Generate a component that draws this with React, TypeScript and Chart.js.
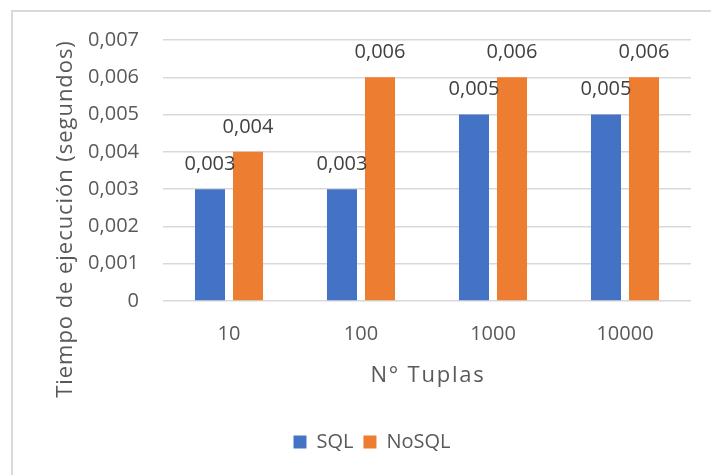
import React, { useEffect, useRef } from "react";
import { Chart, registerables } from "chart.js";

Chart.register(...registerables);

const categories = ["10", "100", "1000", "10000"];
const sqlValues = [0.003, 0.003, 0.005, 0.005];
const nosqlValues = [0.004, 0.006, 0.006, 0.006];
const seriesNames = ["SQL", "NoSQL"];
const yMin = 0;
const yMax = 0.007;
const yStep = 0.001;
const xTitle = "N° Tuplas";
const yTitle = "Tiempo de ejecución (segundos)";

const FONT = "'Open Sans', sans-serif";
const TEXT = "#595959";

const fmt = (v: number) => {
  const r = Math.round(v * 1000) / 1000;
  return r === 0 ? "0" : r.toFixed(3).replace(".", ",");
};

const framePlugin = {
  id: "frame",
  beforeDraw(chart: any) {
    const ctx = chart.ctx;
    ctx.save();
    ctx.fillStyle = "#ffffff";
    ctx.fillRect(0, 0, chart.width, chart.height);
    ctx.fillStyle = "#d9d9d9";
    ctx.fillRect(11, 10, 2, chart.height);
    ctx.fillRect(11, 10, chart.width, 2);
    ctx.restore();
  },
};

const titlesPlugin = {
  id: "axisTitles",
  afterDraw(chart: any) {
    const ctx = chart.ctx;
    const area = chart.chartArea;
    ctx.save();
    ctx.fillStyle = TEXT;
    ctx.textAlign = "center";
    ctx.textBaseline = "alphabetic";
    ctx.font = `22px ${FONT}`;
    (ctx as any).letterSpacing = "1.8px";
    ctx.fillText(xTitle, (area.left + area.right) / 2 + 1, 382);
    ctx.translate(72, 219);
    ctx.rotate(-Math.PI / 2);
    (ctx as any).letterSpacing = "0.95px";
    ctx.fillText(yTitle, 0, 0);
    ctx.restore();
  },
};

const labelPlugin = {
  id: "valueLabels",
  afterDatasetsDraw(chart: any) {
    const ctx = chart.ctx;
    ctx.save();
    ctx.font = `20px ${FONT}`;
    ctx.fillStyle = "#404040";
    ctx.textAlign = "center";
    ctx.textBaseline = "middle";
    chart.data.datasets.forEach((ds: any, i: number) => {
      const meta = chart.getDatasetMeta(i);
      meta.data.forEach((bar: any, j: number) => {
        ctx.fillText(fmt(ds.data[j]), bar.x, bar.y - 25);
      });
    });
    ctx.restore();
  },
};

export default function App() {
  const ref = useRef<HTMLCanvasElement | null>(null);
  useEffect(() => {
    document.body.style.margin = "0";
    document.body.style.overflow = "hidden";
    const chart = new Chart(ref.current as HTMLCanvasElement, {
      type: "bar",
      data: {
        labels: categories,
        datasets: [
          {
            label: seriesNames[0],
            data: sqlValues,
            backgroundColor: "#4472C4",
            categoryPercentage: 0.576,
            barPercentage: 0.79,
          },
          {
            label: seriesNames[1],
            data: nosqlValues,
            backgroundColor: "#ED7D31",
            categoryPercentage: 0.576,
            barPercentage: 0.79,
          },
        ],
      },
      options: {
        animation: false,
        responsive: false,
        maintainAspectRatio: false,
        layout: { padding: { left: 53, right: 20, top: 40, bottom: 13 } },
        plugins: {
          legend: {
            position: "bottom",
            labels: {
              boxWidth: 13,
              boxHeight: 13,
              padding: 10,
              color: TEXT,
              font: { family: FONT, size: 20 },
            },
          },
          tooltip: { enabled: false },
        },
        scales: {
          x: {
            grid: { display: false, drawTicks: false },
            border: { display: false },
            ticks: { color: TEXT, font: { family: FONT, size: 20 }, padding: 21 },
            title: { display: false },
            afterFit: (s: any) => {
              s.height = 121;
            },
          },
          y: {
            min: yMin,
            max: yMax,
            grid: { color: "#d9d9d9", lineWidth: 1.5, drawTicks: false },
            border: { display: false },
            ticks: {
              stepSize: yStep,
              color: TEXT,
              font: { family: FONT, size: 20 },
              padding: 24,
              callback: (v: any) => fmt(Number(v)),
            },
            title: { display: false },
            afterFit: (s: any) => {
              s.width = 110;
            },
          },
        },
      },
      plugins: [framePlugin, labelPlugin, titlesPlugin],
    });
    return () => chart.destroy();
  }, []);
  return (
    <div style={{ position: "fixed", left: 0, top: 0, width: 711, height: 475, overflow: "hidden" }}>
      <canvas ref={ref} width={711} height={475} style={{ display: "block", width: 711, height: 475 }} />
    </div>
  );
}
